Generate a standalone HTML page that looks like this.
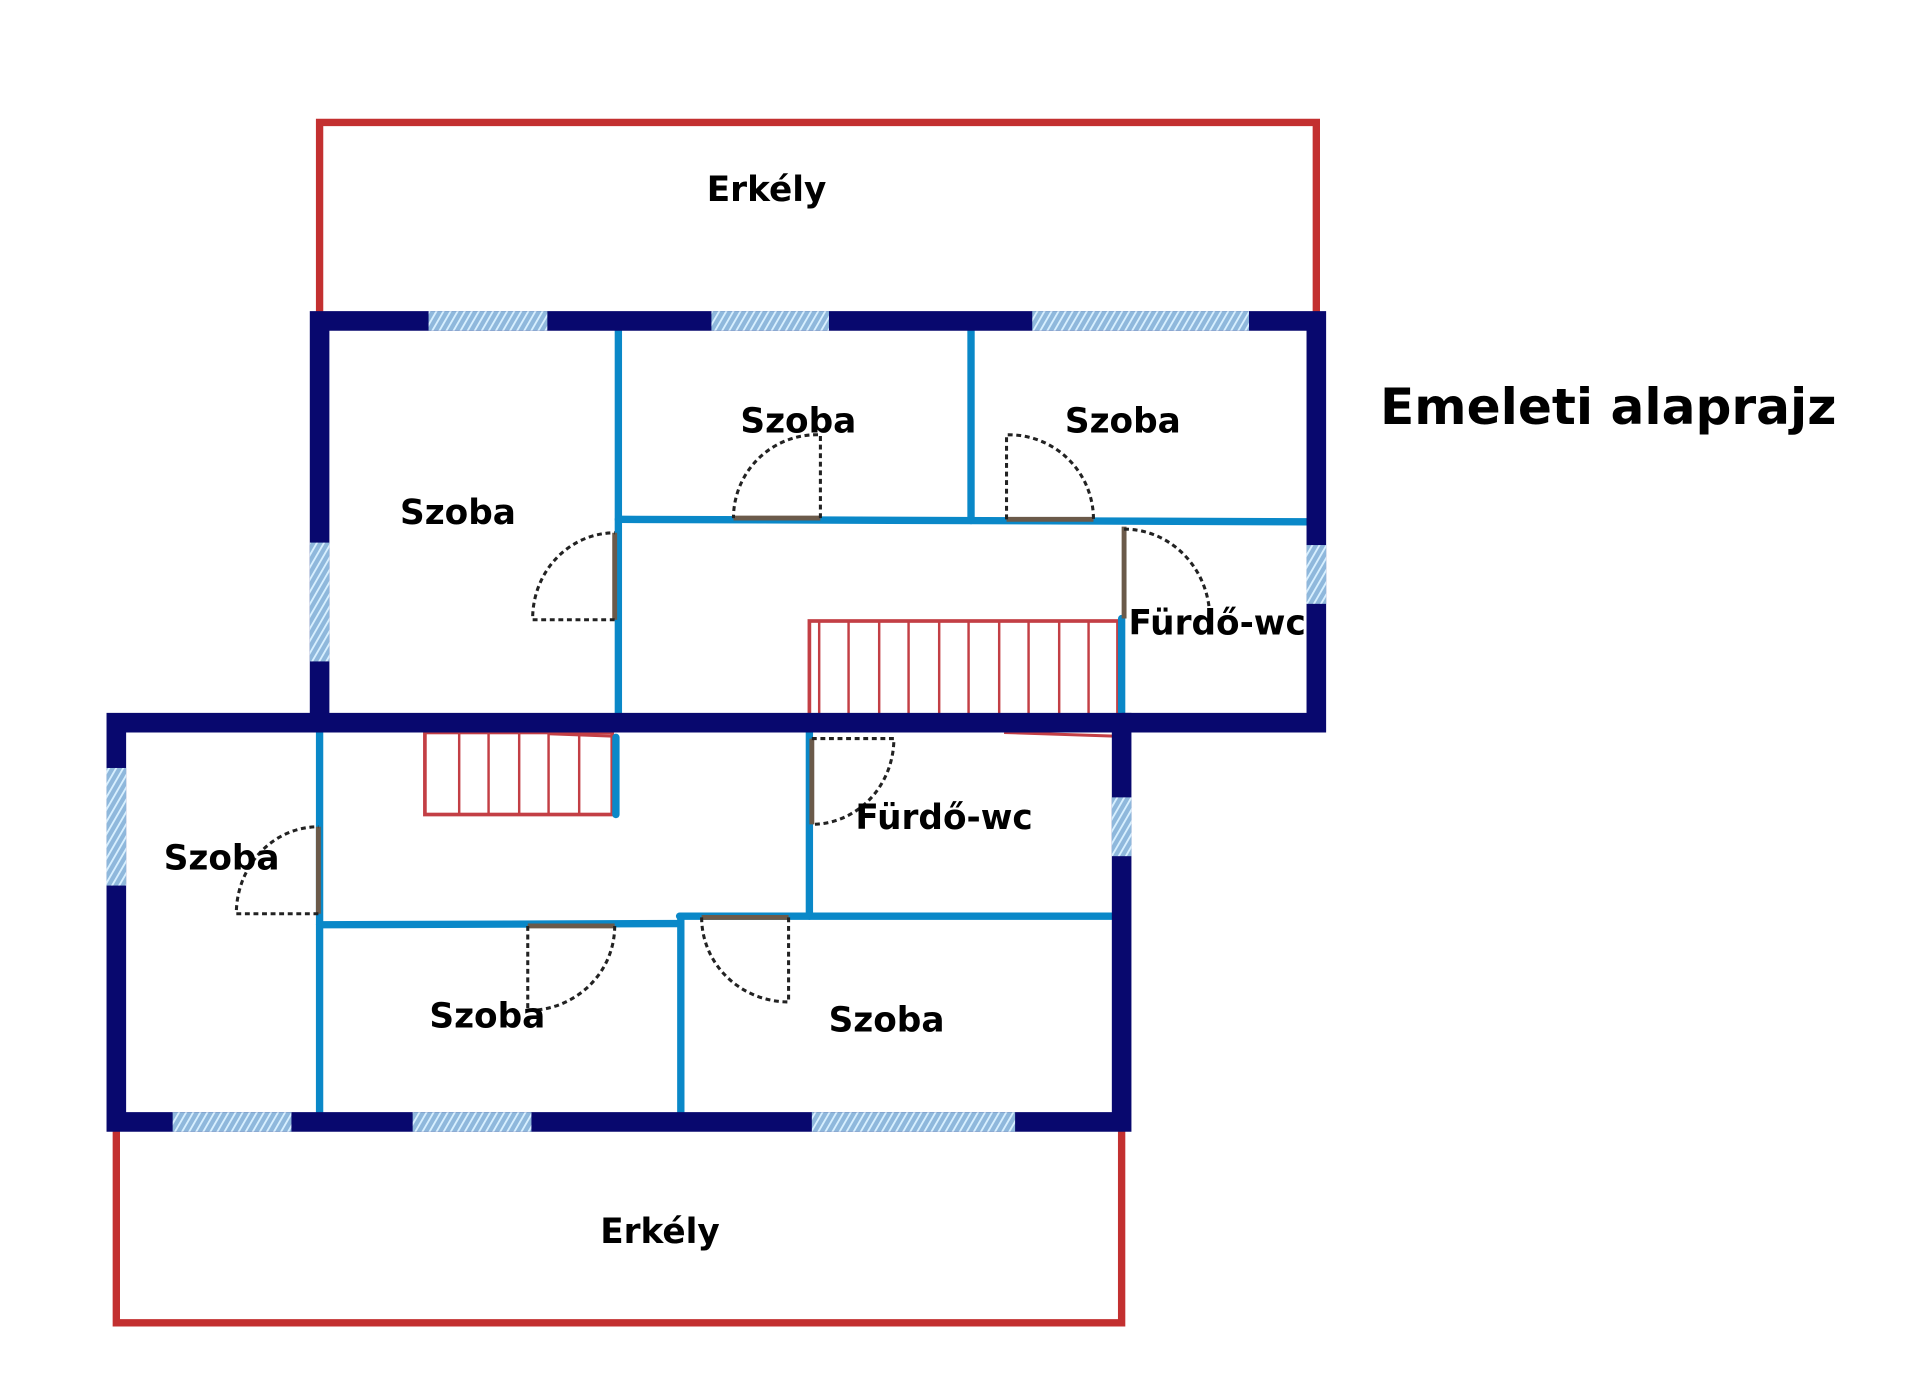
<!DOCTYPE html>
<html><head><meta charset="utf-8"><style>
html,body{margin:0;padding:0;background:#fff;}
svg{display:block;}
text{font-family:"DejaVu Sans","Liberation Sans",sans-serif;font-weight:bold;fill:#000;}
</style></head><body>
<svg width="1920" height="1400" viewBox="0 0 1568 1143" preserveAspectRatio="none" xmlns="http://www.w3.org/2000/svg">
<defs>
<pattern id="h" width="5" height="5" patternUnits="userSpaceOnUse" patternTransform="rotate(30)">
<rect width="5" height="5" fill="#8fb8dc"/><rect width="1.5" height="5" fill="#d8f0ff"/>
</pattern>
</defs>
<rect width="1568" height="1143" fill="#fff"/>
<!-- balconies -->
<polyline points="261,255 261,100 1075,100 1075,255" fill="none" stroke="#c33030" stroke-width="6"/>
<polyline points="95,920 95,1080 916,1080 916,920" fill="none" stroke="#c33030" stroke-width="6"/>
<!-- stairs -->
<g fill="none" stroke="#c33f45" stroke-width="2">
<rect x="661" y="507" width="252" height="83" stroke-width="3"/>
<path d="M669,507V590M693,507V590M718,507V590M742,507V590M767,507V590M791,507V590M816,507V590M840,507V590M865,507V590M889,507V590"/>
<rect x="347" y="598" width="153" height="67" stroke-width="3"/>
<path d="M375,598V665M399,598V665M424,598V665M448,598V665M473,598V665"/>
<path d="M448,599L500,601M820,598L910,601" stroke-width="2.5"/>
</g>
<!-- interior walls -->
<g stroke="#0a88c8" stroke-width="6" fill="none" stroke-linecap="round">
<path d="M505,262V590"/>
<path d="M793,262V425"/>
<path d="M505,424L1068,426"/>
<path d="M916,505V590"/>
<path d="M261,590V916"/>
<path d="M503,602V665"/>
<path d="M661,598V748"/>
<path d="M261,755L555,754"/>
<path d="M555,748H910"/>
<path d="M556,748V916"/>
</g>
<!-- outer walls -->
<g stroke="#08086e" stroke-width="16" fill="none" stroke-linejoin="miter">
<polyline points="261,590 261,262 1075,262 1075,590 916,590"/>
<polygon points="95,590 916,590 916,916 95,916"/>
</g>
<!-- windows -->
<g fill="url(#h)">
<rect x="350" y="254" width="97" height="16"/>
<rect x="581" y="254" width="96" height="16"/>
<rect x="843" y="254" width="177" height="16"/>
<rect x="253" y="443" width="16" height="97"/>
<rect x="1067" y="445" width="16" height="48"/>
<rect x="87" y="627" width="16" height="96"/>
<rect x="908" y="651" width="16" height="48"/>
<rect x="141" y="908" width="97" height="16"/>
<rect x="337" y="908" width="97" height="16"/>
<rect x="663" y="908" width="166" height="16"/>
</g>
<!-- doors -->
<g stroke="#6b5a4a" stroke-width="4" fill="none">
<path d="M599,423H670"/><path d="M822,424H893"/>
<path d="M502,435V506"/><path d="M918,430V505"/>
<path d="M663,603V673"/><path d="M260,675V746"/>
<path d="M431,756H502"/><path d="M573,749H644"/>
</g>
<g stroke="#222" stroke-width="2.5" fill="none" stroke-dasharray="4,3">
<path d="M670,423V355A68,68 0 0 0 599,423"/>
<path d="M822,424V355A69,69 0 0 1 893,424"/>
<path d="M502,506H435A67,70 0 0 1 502,435"/>
<path d="M918,432A70,73 0 0 1 988,505"/>
<path d="M663,603H730A67,70 0 0 1 663,673"/>
<path d="M260,746H193A67,71 0 0 1 260,675"/>
<path d="M431,756V825A71,69 0 0 0 502,756"/>
<path d="M644,749V818A71,69 0 0 1 573,749"/>
</g>
<!-- labels -->
<g font-size="28" text-anchor="middle">
<text x="626" y="164">Erkély</text>
<text x="652" y="353">Szoba</text>
<text x="917" y="353">Szoba</text>
<text x="374" y="428">Szoba</text>
<text x="994" y="518">Fürdő-wc</text>
<text x="771" y="677">Fürdő-wc</text>
<text x="181" y="710">Szoba</text>
<text x="398" y="839">Szoba</text>
<text x="724" y="842">Szoba</text>
<text x="539" y="1015">Erkély</text>
</g>
<text x="1127" y="346" font-size="41">Emeleti alaprajz</text>
</svg>
</body></html>
